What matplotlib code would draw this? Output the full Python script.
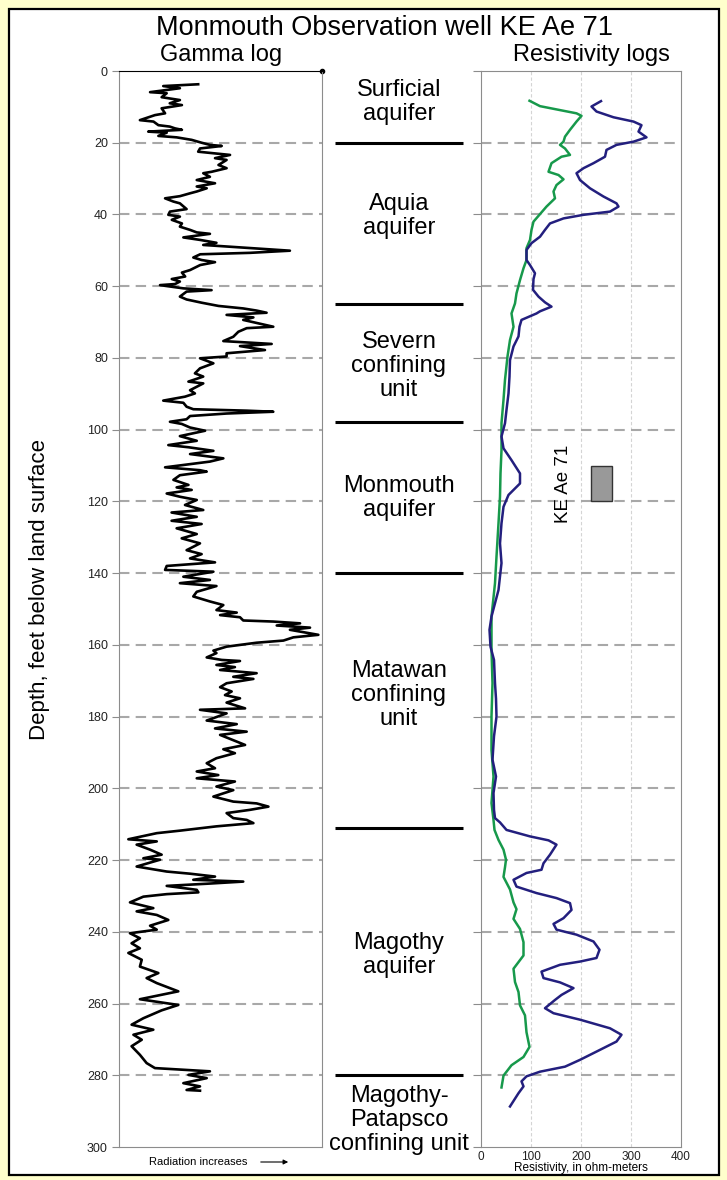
import matplotlib
matplotlib.use('Agg')
import matplotlib.pyplot as plt
from matplotlib.patches import Rectangle

plt.rcParams['font.family'] = ['Liberation Sans', 'DejaVu Sans']

# ---------------- data ----------------
title = 'Monmouth Observation well KE Ae 71'
depth_ticks = list(range(0, 301, 20))
res_ticks = [0, 100, 200, 300, 400]

gamma_depth = [3.7, 4.2, 4.8, 5.9, 6.2, 7.3, 8.1, 9.0, 9.5, 10.4, 11.8, 12.3, 13.7, 14.1, 15.1, 15.5,
               16.0, 16.4, 16.9, 17.2, 18.1, 18.5, 19.2, 20.0, 20.6, 20.9, 21.6, 22.5, 23.4, 24.3, 24.8,
               26.2, 27.1, 28.1, 28.5, 29.5, 30.4, 31.3, 32.2, 32.7, 33.6, 34.1, 34.9, 35.5, 36.4, 36.9,
               38.5, 39.2, 40.1, 40.6, 41.5, 42.5, 43.4, 44.3, 45.0, 45.4, 46.4, 47.1, 47.9, 48.5, 49.0,
               49.4, 50.1, 50.7, 51.1, 52.0, 52.7, 53.3, 54.1, 55.5, 56.2, 57.3, 58.0, 58.7, 59.4, 59.7,
               60.6, 61.1, 61.5, 62.9, 63.7, 64.6, 65.5, 66.2, 66.8, 67.4, 68.0, 68.7, 69.4, 71.3, 71.7,
               72.7, 74.1, 75.3, 76.1, 76.7, 77.8, 78.7, 79.6, 80.1, 81.5, 82.9, 84.3, 85.2, 86.6, 87.1,
               89.0, 89.9, 90.8, 91.9, 92.5, 93.6, 94.3, 94.7, 95.0, 95.5, 96.2, 97.1, 97.8, 98.4, 99.4,
               100.3, 101.8, 103.1, 104.3, 104.9, 105.9, 106.8, 108.0, 108.9, 110.5, 111.3, 111.7, 112.7,
               114.0, 115.4, 116.1, 116.8, 117.8, 118.7, 119.6, 121.0, 122.4, 123.1, 124.3, 125.4, 126.3,
               127.5, 129.1, 130.3, 131.7, 133.6, 134.7, 135.9, 137.0, 138.0, 139.1, 139.6, 141.0, 141.9,
               142.8, 143.6, 145.2, 146.5, 147.9, 148.9, 150.3, 151.0, 151.7, 152.3, 153.2, 153.5, 154.0,
               154.6, 155.2, 155.8, 157.2, 157.9, 158.8, 159.4, 160.5, 161.6, 162.3, 163.5, 164.2, 164.5,
               165.6, 166.2, 167.0, 167.9, 168.9, 169.5, 170.7, 171.8, 173.0, 174.0, 174.9, 176.1, 177.7,
               178.1, 179.1, 181.1, 182.1, 183.3, 184.2, 185.1, 187.9, 189.1, 190.2, 191.6, 193.0, 194.4,
               195.3, 196.3, 197.2, 198.1, 199.5, 200.5, 202.3, 203.7, 204.2, 205.1, 206.0, 206.9, 208.3,
               208.8, 209.7, 210.6, 211.8, 212.5, 214.2, 214.8, 215.7, 217.1, 218.5, 219.5, 219.9, 221.8,
               223.2, 223.8, 224.6, 225.5, 226.0, 226.6, 227.2, 228.3, 229.0, 229.5, 230.2, 231.8, 233.4,
               234.3, 235.3, 236.7, 238.3, 239.4, 240.4, 241.8, 243.2, 244.6, 245.9, 247.8, 249.7, 251.5,
               252.9, 254.3, 256.6, 258.8, 260.4, 261.9, 264.1, 265.9, 267.3, 268.7, 270.1, 271.9, 274.3,
               276.6, 278.0, 278.9, 279.9, 280.8, 282.2, 283.1, 284.1, 284.3]
gamma_value = [39, 21.8, 30, 15.3, 23.5, 21, 30, 25, 31, 21, 22.7, 17.7, 10.3, 17, 19.4, 25,
               27.6, 31, 14.4, 23.5, 19.4, 28.4, 35.8, 40.7, 44.8, 50.6, 39.9, 39, 54.7, 47.3, 53,
               49, 53, 45.6, 41.5, 44.8, 38.3, 47.3, 38.3, 43.2, 38.3, 35, 30, 22.7, 26.8, 30,
               33.3, 25.1, 24.3, 30, 26, 31, 30, 35, 38.3, 44.8, 31.7, 40, 48, 41.5, 54.7,
               64.5, 84.2, 64.5, 40, 36.6, 40.7, 47.3, 40, 35, 31, 32.6, 26, 30, 27.6, 20.2,
               31.7, 45.6, 33.3, 30, 33.3, 40.7, 49, 61.2, 67.8, 72.7, 53, 66.2, 61.2, 76, 62.9,
               58.8, 56.3, 51.4, 75.2, 59.6, 71.9, 53, 53, 39.9, 46.5, 39.9, 37.4, 41.5, 34.2, 41.5,
               35, 37.4, 32.5, 21.8, 31.7, 33.3, 36.6, 62.9, 76, 53, 35, 33.3, 25.1, 30.9, 35,
               42.4, 30, 38.3, 24.3, 34.2, 46.5, 35, 51.4, 44.8, 22.7, 39.9, 43.2, 30,
               26.8, 34.2, 28.4, 35.8, 23.5, 30, 38.3, 32.5, 41.5, 25.9, 38.3, 25.9, 40.7,
               28.4, 38.3, 30.9, 39.9, 33.3, 40.7, 35, 47.3, 23.5, 22.7, 46.5, 31.7, 44.8,
               30, 48, 38.3, 36.6, 44.8, 51.4, 48, 58, 49.8, 59.6, 61.2, 76, 89.2,
               77.7, 94.1, 84.2, 98.2, 85.9, 81, 67.8, 53, 46.5, 48, 43.2, 50.6, 59.6,
               48, 57.1, 49.8, 67.8, 56.3, 66.2, 53, 49.8, 55.5, 52.2, 59.6, 53, 62.1,
               39.9, 53, 43.2, 58, 47.3, 62.9, 49.8, 62.1, 51.4, 57.1, 48, 43.2, 47.3,
               38.3, 48.9, 38.3, 57.1, 48, 56.3, 46.5, 56.3, 67.8, 73.6, 64.5, 53, 56.3,
               62.9, 66.2, 48, 30, 18.6, 4.6, 18.6, 8.7, 15.3, 21, 12, 20.2, 8.7,
               23.5, 35, 47.3, 36.6, 61.2, 43.2, 23.5, 38.3, 39.1, 23.5, 12, 5.4, 16.9,
               8.7, 18.6, 24.3, 15.3, 18.6, 5.4, 10.3, 6.2, 10.3, 4.6, 11.2, 10.3, 19.4,
               13.6, 18.6, 29.2, 10.3, 29.2, 21, 12, 6.2, 16.9, 7.1, 11.2, 6.2, 10.3,
               13.6, 17.7, 44.8, 34.2, 43.2, 31.7, 39.9, 33.3, 39.9]

res_shallow_depth = [8.3, 9.8, 10.9, 11.8, 12.5, 14.1, 16.4, 18.3, 19.7, 20.6, 21.6, 23.4, 23.9, 25.7,
                     28.1, 29.0, 30.2, 31.8, 33.6, 35.5, 37.8, 39.9, 42.0, 44.3, 47.1, 49.4, 52.7, 55.0,
                     58.3, 62.0, 64.8, 67.6, 71.3, 75.0, 79.6, 86.1, 91.7, 98.2, 105.7, 112.2, 118.7,
                     126.1, 135.4, 142.8, 152.1, 161.4, 170.7, 180.0, 189.3, 196.7, 204.1, 208.8, 211.6,
                     214.4, 217.1, 219.9, 222.0, 224.7, 228.2, 231.8, 233.7, 236.4, 239.2, 242.9, 246.6,
                     250.3, 254.0, 256.8, 260.5, 263.3, 268.0, 272.1, 274.9, 277.2, 280.1, 283.4]
res_shallow = [97, 118, 158, 191, 201, 191, 178, 168, 165, 158, 168, 178, 161, 141,
               135, 155, 165, 151, 145, 148, 131, 118, 105, 101, 98, 91, 91, 85,
               78, 71, 68, 61, 65, 58, 53, 48, 45, 41, 41, 39, 38,
               35, 31, 28, 21, 21, 23, 21, 21, 25, 21, 25, 27,
               35, 45, 50, 48, 45, 58, 65, 71, 65, 78, 85, 85,
               65, 68, 75, 78, 88, 91, 97, 85, 61, 45, 41]

res_deep_depth = [8.4, 9.9, 11.3, 12.9, 14.1, 15.1, 16.9, 18.5, 19.7, 20.6, 22.0, 23.9, 25.7, 27.1,
                  28.5, 30.4, 32.7, 35.0, 36.9, 37.8, 39.2, 40.1, 41.1, 42.5, 44.3, 46.2, 48.0, 49.9,
                  52.7, 54.1, 56.4, 58.0, 61.0, 62.9, 64.5, 65.7, 67.0, 67.6, 69.4, 71.3, 74.0, 76.8,
                  80.6, 85.2, 89.9, 94.5, 98.2, 101.9, 105.2, 108.5, 112.2, 115.0, 118.2, 121.5, 126.1,
                  131.7, 137.2, 140.9, 144.7, 148.4, 152.1, 155.8, 160.5, 164.2, 170.7, 175.0, 180.0,
                  185.5, 192.0, 196.7, 201.3, 206.0, 208.3, 209.5, 211.6, 213.4, 214.5, 215.7, 218.5,
                  220.9, 222.7, 223.6, 225.5, 227.4, 229.2, 230.6, 232.0, 233.9, 236.2, 237.8, 239.4,
                  240.8, 242.7, 245.0, 247.3, 248.3, 249.2, 251.1, 252.9, 254.1, 255.7, 257.6, 259.0,
                  261.3, 262.7, 264.5, 266.9, 268.7, 270.6, 273.4, 275.7, 277.6, 279.0, 280.3, 281.7,
                  283.1, 285.0, 288.7]
res_deep = [240, 221, 231, 265, 305, 321, 315, 331, 305, 271, 251, 248, 225, 205,
            191, 198, 218, 245, 271, 275, 258, 205, 165, 138, 128, 118, 101, 91,
            91, 98, 108, 105, 104, 115, 128, 141, 118, 111, 81, 77, 75, 65,
            58, 57, 55, 51, 48, 41, 45, 61, 78, 78, 55, 45, 41,
            38, 41, 38, 35, 28, 21, 17, 19, 26, 28, 30, 31,
            26, 23, 30, 25, 26, 28, 38, 51, 98, 135, 151, 138,
            125, 121, 91, 65, 71, 111, 151, 178, 181, 165, 145, 151,
            191, 225, 237, 231, 198, 158, 121, 125, 158, 185, 161, 148,
            128, 145, 198, 258, 281, 271, 231, 198, 168, 118, 91, 81,
            85, 75, 58]

unit_boundaries = [20, 65, 98, 140, 211, 280]
unit_names = ['Surficial\naquifer', 'Aquia\naquifer', 'Severn\nconfining\nunit',
              'Monmouth\naquifer', 'Matawan\nconfining\nunit', 'Magothy\naquifer',
              'Magothy-\nPatapsco\nconfining unit']
unit_label_depths = [8.6, 40.5, 82.2, 119, 174, 246.5, 292.5]

well_name = 'KE Ae 71'
screen_top, screen_bottom = 110, 120
screen_left, screen_right = 220, 262

# ---------------- figure ----------------
W, H = 727, 1180
fig = plt.figure(figsize=(W / 100, H / 100), dpi=100, facecolor='#FFFFCC')


def fx(px):
    return px / W


def fy(py):
    return 1 - py / H


fig.patches.append(Rectangle((fx(9), fy(1175)), fx(719) - fx(9), fy(9) - fy(1175),
                             transform=fig.transFigure, facecolor='white',
                             edgecolor='black', lw=1.6, zorder=-5))

top, bot = 71, 1147
axg = fig.add_axes([fx(119), fy(bot), fx(322) - fx(119), (bot - top) / H])
axm = fig.add_axes([fx(322), fy(bot), fx(481) - fx(322), (bot - top) / H])
axr = fig.add_axes([fx(481), fy(bot), fx(681) - fx(481), (bot - top) / H])

grid_kw = dict(color='#a8a8a8', lw=1.5, ls=(0, (5, 3)), zorder=0)
spine_c = '#8c8c8c'

# gamma log
axg.plot(gamma_value, gamma_depth, color='black', lw=1.9)
axg.set_xlim(0, 100)
axg.set_ylim(300, 0)
axg.set_yticks(depth_ticks)
axg.set_yticklabels([str(t) for t in depth_ticks])
axg.tick_params(axis='y', direction='out', length=5, color=spine_c, labelsize=9, pad=3,
                labelcolor='#222222')
axg.set_xticks([])
for s in ['left', 'right', 'bottom']:
    axg.spines[s].set_color(spine_c)
axg.spines['top'].set_color('black')
for d in depth_ticks[1:-1]:
    axg.axhline(d, **grid_kw)
axg.plot([1], [1], marker='o', ms=3, color='black', transform=axg.transAxes, clip_on=False)

# middle column
axm.set_xlim(0, 1)
axm.set_ylim(300, 0)
axm.axis('off')
axm.hlines(unit_boundaries, (335 - 322) / 159, (463 - 322) / 159, color='black', lw=2.2)
for name, d in zip(unit_names, unit_label_depths):
    axm.text((399 - 322) / 159, d, name, ha='center', va='center', fontsize=17,
             linespacing=1.12, clip_on=False)

# resistivity
axr.plot(res_shallow, res_shallow_depth, color='#17994b', lw=1.8)
axr.plot(res_deep, res_deep_depth, color='#231f7e', lw=1.8)
axr.set_xlim(0, 400)
axr.set_ylim(300, 0)
axr.set_xticks(res_ticks)
axr.set_xticklabels([str(t) for t in res_ticks])
axr.tick_params(axis='x', length=0, labelsize=8.5, pad=3, labelcolor='#222222')
axr.set_yticks(depth_ticks)
axr.set_yticklabels([])
axr.tick_params(axis='y', direction='out', length=6, color=spine_c)
for s in axr.spines.values():
    s.set_color(spine_c)
for x in res_ticks[1:-1]:
    axr.axvline(x, color='#d4d4d4', lw=0.8, ls=(0, (3, 2)), zorder=0)
for d in depth_ticks[1:-1]:
    axr.axhline(d, **grid_kw)
axr.add_patch(Rectangle((screen_left, screen_top), screen_right - screen_left,
                        screen_bottom - screen_top, facecolor='#999999',
                        edgecolor='#333333', lw=1, zorder=3))
axr.text(166, 115, well_name, rotation=90, fontsize=13.5, ha='center', va='center')

# texts
fig.text(fx(385), fy(28), title, fontsize=19.5, ha='center', va='center')
fig.text(fx(221), fy(55), 'Gamma log', fontsize=17, ha='center', va='center')
fig.text(fx(591), fy(55), 'Resistivity logs', fontsize=17, ha='center', va='center')
fig.text(fx(40), fy(590), 'Depth, feet below land surface', rotation=90, fontsize=16,
         ha='center', va='center')
fig.text(fx(198), fy(1162), 'Radiation increases', fontsize=8, ha='center', va='center')
fig.add_artist(plt.Annotation('', xy=(fx(291), fy(1162)), xytext=(fx(258), fy(1162)),
                              xycoords='figure fraction', textcoords='figure fraction',
                              arrowprops=dict(arrowstyle='-|>', lw=0.8, color='black',
                                              mutation_scale=7)))
fig.text(fx(581), fy(1168), 'Resistivity, in ohm-meters', fontsize=8.5, ha='center', va='center')

fig.savefig('out.png', dpi=100, facecolor=fig.get_facecolor())
